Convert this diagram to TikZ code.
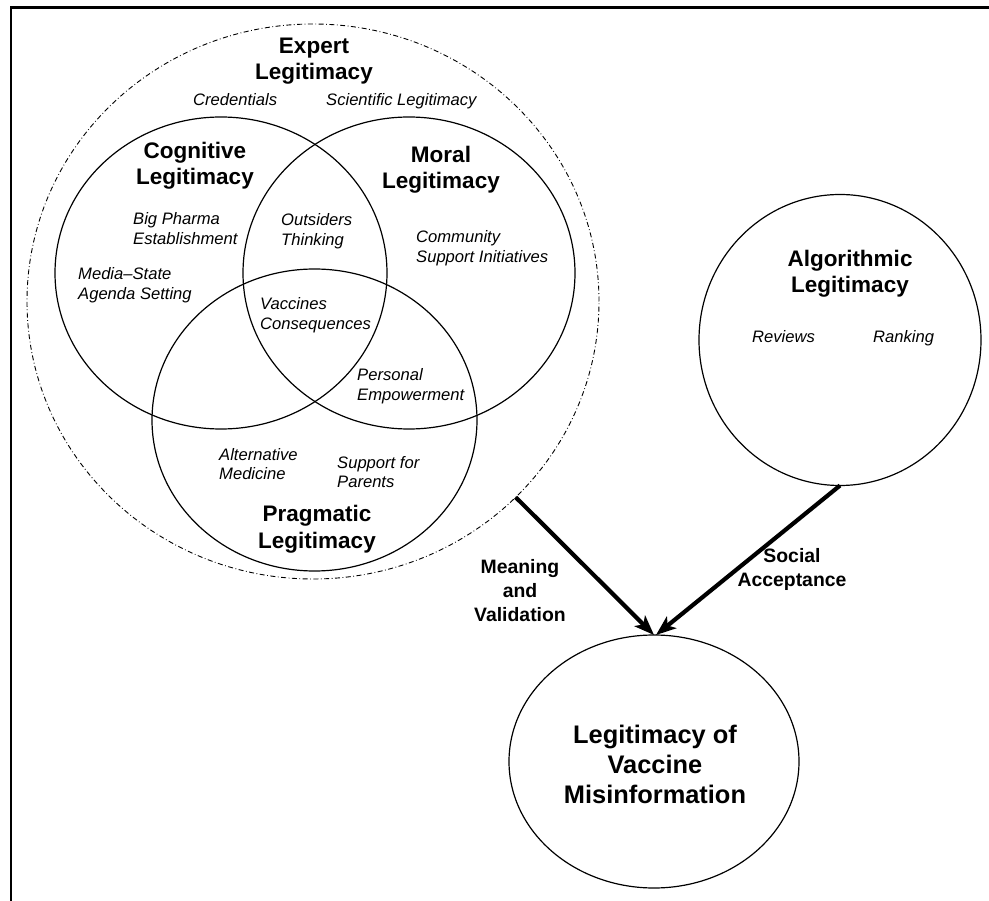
\documentclass[tikz,border=0pt]{standalone}
\usepackage{fontspec}
\setmainfont{Liberation Sans}
\usetikzlibrary{shapes.geometric,arrows.meta}
\tikzset{
  ring/.style={draw,ellipse,line width=1.2pt,inner sep=0pt,outer sep=0pt},
  outerring/.style={draw,ellipse,line width=0.9pt,inner sep=0pt,outer sep=0pt,dash pattern=on 5pt off 2.5pt on 0.8pt off 2.5pt},
  head/.style={font=\bfseries\fontsize{22.5}{26.5}\selectfont,align=center,inner sep=0pt,anchor=base},
  item/.style={font=\itshape\fontsize{16.6}{20}\selectfont,align=left,inner sep=0pt,anchor=base west},
  flowlabel/.style={font=\bfseries\fontsize{19.4}{24}\selectfont,align=center,inner sep=0pt,anchor=base},
  flow/.style={line width=4.2pt,-{Stealth[length=20pt,width=15pt,inset=5pt]}},
}
\begin{document}
\begin{tikzpicture}[x=1pt,y=-1pt]
\useasboundingbox(0,0)rectangle(989,901);
\draw[line width=2.8pt](11,905)--(11,7.3)--(995,7.3);
% circles
\node[outerring,minimum width=572pt,minimum height=555pt](expert)at(313,301.5){};
\node[ring,minimum width=332pt,minimum height=312pt](cognitive)at(221,273){};
\node[ring,minimum width=332pt,minimum height=312pt](moral)at(409,273){};
\node[ring,minimum width=325pt,minimum height=302pt](pragmatic)at(314.5,420){};
\node[ring,minimum width=282pt,minimum height=291pt](algo)at(840,340){};
\node[ring,minimum width=290pt,minimum height=253pt](legit)at(654,761.5){};
% headings (base = last line)
\node[head](expertT)at(314,80){Expert\\Legitimacy};
\node[head](cognitiveT)at(195,185){Cognitive\\Legitimacy};
\node[head](moralT)at(441,189){Moral\\Legitimacy};
\node[head](pragmaticT)at(317,548){Pragmatic\\Legitimacy};
\node[head](algoT)at(850,293){Algorithmic\\Legitimacy};
\node[head,font=\bfseries\fontsize{25.4}{30}\selectfont](legitT)at(655,803){Legitimacy of\\Vaccine\\Misinformation};
% items
\node[item](cred)at(193,106){Credentials};
\node[item](sci)at(326,106){Scientific Legitimacy};
\node[item](pharma)at(133,245){Big Pharma\\Establishment};
\node[item](outs)at(281,246){Outsiders\\Thinking};
\node[item](media)at(78,300){Media--State\\Agenda Setting};
\node[item](comm)at(416,263){Community\\Support Initiatives};
\node[item](vacc)at(260,330){Vaccines\\Consequences};
\node[item](pers)at(357,401){Personal\\Empowerment};
\node[item](alt)at(219,480){Alternative\\Medicine};
\node[item](supp)at(337,488){Support for\\Parents};
\node[item](rev)at(752,343){Reviews};
\node[item](rank)at(873,343){Ranking};
% arrows
\draw[flow](expert.-44)--(legit.north);
\draw[flow](algo.south)--([xshift=2pt]legit.north);
\node[flowlabel](meaning)at(520,621){Meaning\\and\\Validation};
\node[flowlabel](social)at(792,586){Social\\Acceptance};
\end{tikzpicture}
\end{document}
